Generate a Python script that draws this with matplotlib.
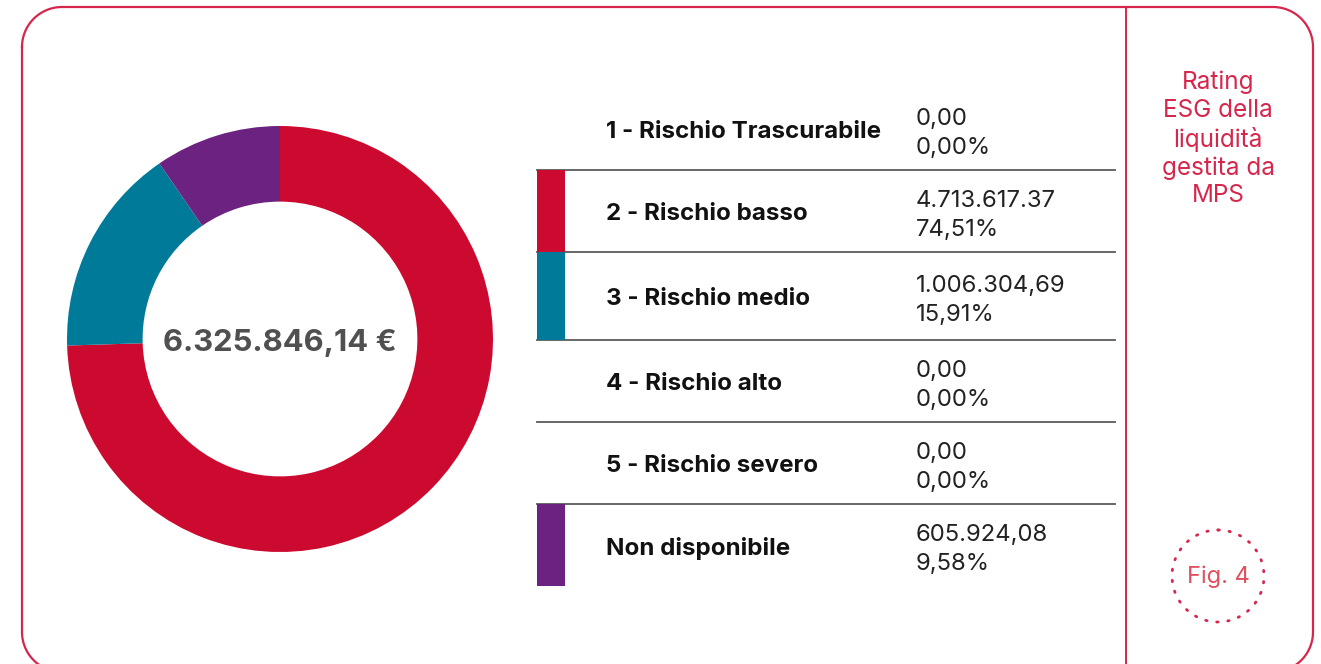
import numpy as np
import matplotlib.pyplot as plt
from matplotlib.patches import Rectangle, Circle

plt.rcParams['font.family'] = ['Inter', 'DejaVu Sans']

# data
categories = ["1 - Rischio Trascurabile", "2 - Rischio basso", "3 - Rischio medio",
              "4 - Rischio alto", "5 - Rischio severo", "Non disponibile"]
amounts = ["0,00", "4.713.617.37", "1.006.304,69", "0,00", "0,00", "605.924,08"]
shares = [0.00, 74.51, 15.91, 0.00, 0.00, 9.58]
share_labels = ["0,00%", "74,51%", "15,91%", "0,00%", "0,00%", "9,58%"]
colors = ["#ffffff", "#CC0A2F", "#007A99", "#ffffff", "#ffffff", "#6C2280"]
total_label = "6.325.846,14 €"
side_title = "Rating\nESG della\nliquidità\ngestita da\nMPS"
fig_label = "Fig. 4"

frame_col = "#D6264C"
W, H = 1321, 664

fig = plt.figure(figsize=(W / 100, H / 100), dpi=100)

# background axes in pixel coords
ax = fig.add_axes([0, 0, 1, 1])
ax.set_xlim(0, W)
ax.set_ylim(H, 0)
ax.axis('off')

# rounded frame, built by hand (bottom edge falls just outside the picture)
x0, x1, y0, y1, rr = 22, 1313, 7, 672, 40
t = np.linspace(0, np.pi / 2, 30)
fx = np.concatenate([x0 + rr - rr * np.cos(t), x1 - rr + rr * np.sin(t),
                     x1 - rr + rr * np.cos(t), x0 + rr - rr * np.sin(t), [x0]])
fy = np.concatenate([y0 + rr - rr * np.sin(t), y0 + rr - rr * np.cos(t),
                     y1 - rr + rr * np.sin(t), y1 - rr + rr * np.cos(t), [y0 + rr]])
ax.plot(fx, fy, color=frame_col, lw=1.6, clip_on=False)
ax.plot([1126, 1126], [7, H], color=frame_col, lw=1.4)

# donut
cx, cy, r = 280, 339, 213
dax = fig.add_axes([(cx - r) / W, 1 - (cy + r) / H, 2 * r / W, 2 * r / H])
pie_vals = [s for s in shares if s > 0]
pie_cols = [c for s, c in zip(shares, colors) if s > 0]
dax.pie(pie_vals, colors=pie_cols, startangle=90, counterclock=False, radius=1,
        wedgeprops=dict(width=0.355, linewidth=0))
dax.set_xlim(-1, 1)
dax.set_ylim(-1, 1)
dax.set_aspect('equal')
dax.axis('off')
dax.text(0, -0.02, total_label, ha='center', va='center', fontsize=22.3,
         fontweight='bold', color='#505050')

# table
row_top = [88, 170, 252, 340, 422, 504]
row_bot = [170, 252, 340, 422, 504, 586]
for i, cat in enumerate(categories):
    ya, yb = row_top[i], row_bot[i]
    yc = (ya + yb) / 2 + 3
    if shares[i] > 0 and colors[i] != "#ffffff":
        ax.add_patch(Rectangle((537, ya), 28, yb - ya, color=colors[i], lw=0, zorder=3))
    if i < len(categories) - 1:
        ax.plot([537, 1115], [yb, yb], color='#5a5a5a', lw=1.3, zorder=2)
    ax.text(606, yc, cat, ha='left', va='center', fontsize=17.4, fontweight='bold',
            color='#111111')
    ax.text(916, yc - 13, amounts[i], ha='left', va='center', fontsize=17.2, color='#222222')
    ax.text(916, yc + 16, share_labels[i], ha='left', va='center', fontsize=17.2,
            color='#222222')

# side title
ax.text(1218, 139, side_title, ha='center', va='center', fontsize=17.5, color=frame_col,
        linespacing=1.25)

# fig label in dotted circle
ax.add_patch(Circle((1218, 576), 46, fill=False, ec=frame_col, lw=2,
                    linestyle=(0, (0.5, 3.5)), capstyle='round'))
ax.text(1218, 577, fig_label, ha='center', va='center', fontsize=17, color='#E0505F')

fig.savefig('out.png', dpi=100)
